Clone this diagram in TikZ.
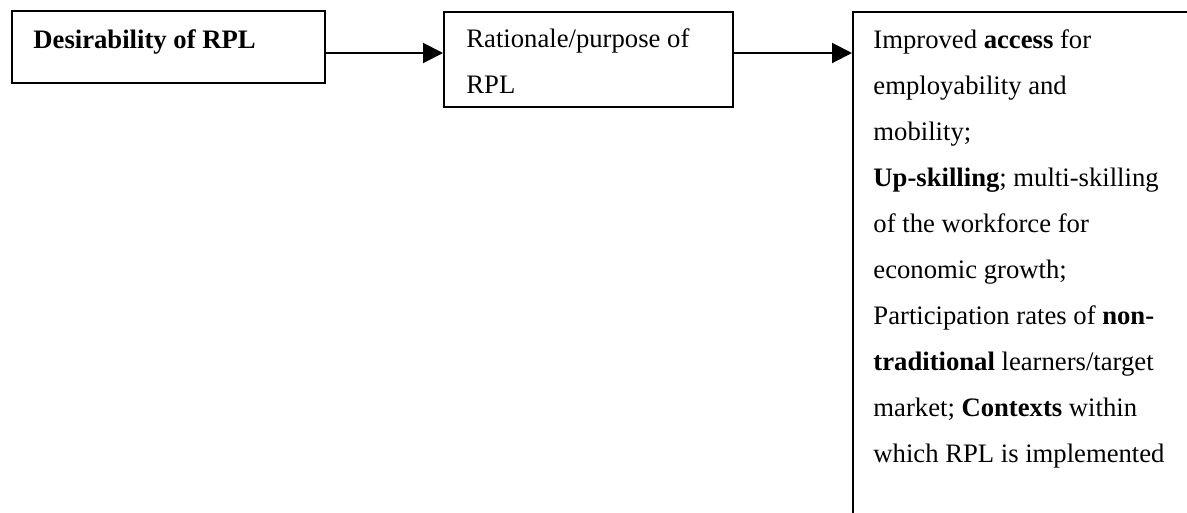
\documentclass[tikz,border=0pt]{standalone}
\usepackage{fontspec}
\setmainfont{Liberation Serif}
\usetikzlibrary{arrows.meta,fit}

\tikzset{
  box/.style={draw,line width=0.9pt,inner sep=0pt},
  boxtext/.style={inner sep=0pt,anchor=base west,align=left,
    font=\fontsize{12}{20.7}\selectfont},
  link/.style={line width=0.9pt,-{Triangle[length=9pt,width=9pt]}}
}

\begin{document}
\begin{tikzpicture}[x=0.45pt,y=-0.45pt]
\path[use as bounding box,clip] (0,0) rectangle (1187,512);

% the three boxes
\node[box,fit={(12,11)(325,83)}] (desir) {};
\node[box,fit={(444,12)(733,107)}] (purpose) {};
\node[box,fit={(853,12)(1300,600)}] (aims) {};

% their texts (placed at the baseline of the last line)
\node[boxtext] (desirtxt) at (33,48) {\textbf{Desirability of RPL}};
\node[boxtext] (purposetxt) at (466,93) {Rationale/purpose of\\RPL};
\node[boxtext] (aimstxt) at (873,462) {Improved \textbf{access} for\\
  employability and\\
  mobility;\\
  \textbf{Up-skilling}; multi-skilling\\
  of the workforce for\\
  economic growth;\\
  Participation rates of \textbf{non-}\\
  \textbf{traditional} learners/target\\
  market; \textbf{Contexts} within\\
  which RPL is implemented};

% arrows
\coordinate (lvl) at (0,53);
\draw[link] (desir.east |- lvl) -- (purpose.west |- lvl);
\draw[link] (purpose.east |- lvl) -- (aims.west |- lvl);
\end{tikzpicture}
\end{document}
